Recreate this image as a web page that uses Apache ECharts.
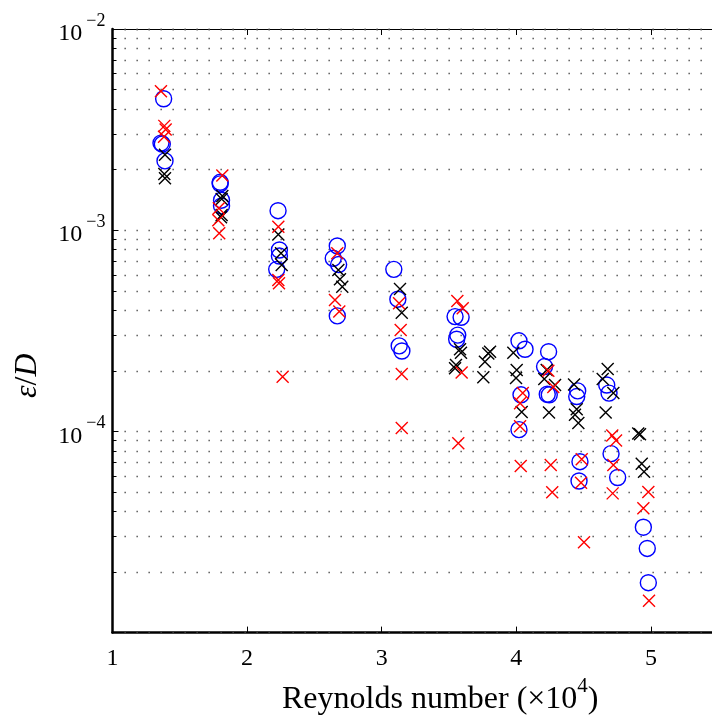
<!DOCTYPE html>
<html><head><meta charset="utf-8">
<script src="https://cdn.jsdelivr.net/npm/echarts@6/dist/echarts.min.js"></script>
<style>html,body{margin:0;padding:0;background:#fff}#c{width:712px;height:722px}</style>
</head><body><div id="c"></div>
<script>
// ---- data ----
const xTickLabels = ['1', '2', '3', '4', '5'];
const yDecades = [1e-5, 1e-4, 1e-3, 1e-2];
const yMinorTicks = [2e-5,3e-5,4e-5,5e-5,6e-5,7e-5,8e-5,9e-5,2e-4,3e-4,4e-4,5e-4,6e-4,7e-4,8e-4,9e-4,2e-3,3e-3,4e-3,5e-3,6e-3,7e-3,8e-3,9e-3];

const blueRe  = [1.38,1.36,1.37,1.39, 1.80,1.80,1.81,1.81, 2.23,2.24,2.24,2.22, 2.67,2.64,2.68,2.67, 3.09,3.12,3.13,3.15, 3.545,3.59,3.565,3.557, 4.02,4.065,4.035,4.02, 4.24,4.21,4.23,4.245, 4.456,4.449,4.473,4.466, 4.672,4.689,4.704,4.753, 4.944,4.973,4.981];
const blueEps = [4.5e-3,2.71e-3,2.68e-3,2.21e-3, 1.73e-3,1.70e-3,1.41e-3,1.32e-3, 1.25e-3,7.97e-4,7.44e-4,6.39e-4, 8.35e-4,7.25e-4,6.75e-4,3.75e-4, 6.39e-4,4.54e-4,2.66e-4,2.51e-4, 3.72e-4,3.69e-4,3.01e-4,2.87e-4, 2.82e-4,2.56e-4,1.52e-4,1.02e-4, 2.49e-4,2.10e-4,1.53e-4,1.52e-4, 1.59e-4,1.49e-4,7.07e-5,5.67e-5, 1.70e-4,1.55e-4,7.75e-5,5.90e-5, 3.34e-5,2.62e-5,1.77e-5];

const blackRe  = [1.39,1.385,1.39, 1.816,1.811,1.811,1.806, 2.232,2.252,2.257, 2.678,2.69,2.707, 3.136,3.149, 3.582,3.589,3.552,3.545, 3.805,3.792,3.767,3.755, 3.978,4.003,3.998,4.04, 4.226,4.208,4.288,4.243, 4.429,4.449,4.436,4.461, 4.679,4.642,4.721,4.664, 4.906,4.919,4.932,4.949];
const blackEps = [2.37e-3,1.90e-3,1.81e-3, 1.48e-3,1.43e-3,1.19e-3,1.16e-3, 9.52e-4,7.68e-4,6.71e-4, 6.34e-4,5.70e-4,5.24e-4, 5.10e-4,3.89e-4, 2.56e-4,2.46e-4,2.14e-4,2.06e-4, 2.49e-4,2.44e-4,2.22e-4,1.86e-4, 2.46e-4,2.02e-4,1.84e-4,1.25e-4, 2.02e-4,1.82e-4,1.70e-4,1.24e-4, 1.71e-4,1.29e-4,1.21e-4,1.10e-4, 2.04e-4,1.82e-4,1.55e-4,1.24e-4, 9.76e-5,9.67e-5,6.91e-5,6.30e-5];

const redRe  = [1.36,1.385,1.395,1.383, 1.816,1.79,1.786,1.793, 2.232,2.232,2.237,2.264, 2.67,2.653,2.685, 3.129,3.141,3.149,3.149, 3.562,3.602,3.594,3.569, 4.048,4.028,4.028,4.033, 4.238,4.275,4.256,4.267, 4.486,4.481,4.503, 4.713,4.741,4.721,4.716, 4.981,4.944,4.986];
const redEps = [4.9e-3,3.30e-3,3.17e-3,2.91e-3, 1.87e-3,1.285e-3,1.12e-3,9.65e-4, 1.04e-3,5.66e-4,5.45e-4,1.87e-4, 7.68e-4,4.50e-4,3.94e-4, 4.33e-4,3.19e-4,1.93e-4,1.04e-4, 4.45e-4,4.09e-4,1.96e-4,8.73e-5, 1.55e-4,1.38e-4,1.06e-4,6.73e-5, 2.00e-4,1.66e-4,6.81e-5,4.98e-5, 7.27e-5,5.56e-5,2.81e-5, 9.54e-5,9.01e-5,6.81e-5,4.92e-5, 5.00e-5,4.15e-5,1.44e-5];

const xMin = 1, xMax = 5.454;
const yMin = 1e-5, yMax = 1e-2;

// ---- chart ----
const zip = (a, b) => a.map((v, i) => [v, b[i]]);
const FONT = 'Liberation Serif';
const CROSS = 'path://M0,0L10,10M10,0L0,10';
const DOTS = {color: '#444', width: 1.3, type: [1.3, 10.7], opacity: 1};

const chart = echarts.init(document.getElementById('c'), null, {renderer: 'canvas'});
chart.setOption({
  animation: false,
  backgroundColor: '#ffffff',
  grid: {left: 112.5, top: 29, right: 0, bottom: 89.4, containLabel: false},
  xAxis: [{
    type: 'value', min: xMin, max: xMax, interval: 1, position: 'bottom',
    name: '{n|Reynolds number (×10}{s|4}{n|)}',
    nameLocation: 'middle', nameGap: 36,
    nameTextStyle: {padding: [0, 0, 0, 56], rich: {
      n: {fontFamily: FONT, fontSize: 32, color: '#000', lineHeight: 40, verticalAlign: 'bottom'},
      s: {fontFamily: FONT, fontSize: 21, color: '#000', lineHeight: 30, verticalAlign: 'top'}
    }},
    axisLine: {show: true, onZero: false, lineStyle: {color: '#000', width: 2.5}},
    axisTick: {show: true, inside: true, length: 6, lineStyle: {color: '#000', width: 1}},
    axisLabel: {show: true, showMaxLabel: false, margin: 14, fontFamily: FONT, fontSize: 24, color: '#000',
      formatter: v => { const i = Math.round(v) - 1; return (Math.abs(v - Math.round(v)) < 1e-9 && xTickLabels[i]) ? xTickLabels[i] : ''; }},
    splitLine: {show: false}
  }, {
    type: 'value', min: xMin, max: xMax, interval: 1, position: 'top',
    axisLine: {show: true, onZero: false, lineStyle: {color: '#000', width: 1}},
    axisTick: {show: true, inside: true, length: 6, lineStyle: {color: '#000', width: 1}},
    axisLabel: {show: false}, splitLine: {show: false}
  }],
  yAxis: [{
    type: 'log', logBase: 10, min: yMin, max: yMax, position: 'left', z: 3,
    name: '{i|ε}{n|/}{i|D}',
    nameLocation: 'middle', nameGap: 69, nameRotate: 90,
    nameTextStyle: {padding: [0, 90, 0, 0], rich: {
      i: {fontFamily: FONT, fontSize: 32, fontStyle: 'italic', color: '#000'},
      n: {fontFamily: FONT, fontSize: 32, color: '#000'}
    }},
    axisLine: {show: true, onZero: false, lineStyle: {color: '#000', width: 2.5}},
    axisTick: {show: true, inside: true, length: 6, lineStyle: {color: '#000', width: 1}},
    axisLabel: {show: true, margin: 7,
      formatter: v => {
        const e = Math.round(Math.log10(v));
        if (!yDecades.some(d => Math.abs(Math.log10(d) - e) < 1e-6) || e === -5) return '';
        return '{b|10}{s|−' + Math.abs(e) + '}';
      },
      rich: {
        b: {fontFamily: FONT, fontSize: 24, color: '#000', lineHeight: 34, verticalAlign: 'bottom'},
        s: {fontFamily: FONT, fontSize: 18, color: '#000', lineHeight: 16, verticalAlign: 'top', padding: [0, 0, 0, 4]}
      }},
    splitLine: {show: true, lineStyle: DOTS}
  }, {
    type: 'log', logBase: 10, min: yMin, max: yMax, position: 'left',
    axisLine: {show: false},
    axisTick: {show: true, inside: true, length: 4, customValues: yMinorTicks, lineStyle: {color: '#000', width: 1}},
    axisLabel: {show: false},
    splitLine: {show: true, lineStyle: DOTS}
  }],
  series: [{
    type: 'scatter', name: 'blue', data: zip(blueRe, blueEps), z: 3,
    symbol: 'circle', symbolSize: 16,
    itemStyle: {color: 'rgba(0,0,0,0)', borderColor: '#0000ff', borderWidth: 1.4, opacity: 1},
    emphasis: {disabled: true}
  }, {
    type: 'scatter', name: 'black', data: zip(blackRe, blackEps), z: 4,
    symbol: CROSS, symbolSize: 12,
    itemStyle: {color: 'rgba(0,0,0,0)', borderColor: '#000000', borderWidth: 1.4, opacity: 1},
    emphasis: {disabled: true}
  }, {
    type: 'scatter', name: 'red', data: zip(redRe, redEps), z: 5,
    symbol: CROSS, symbolSize: 12,
    itemStyle: {color: 'rgba(0,0,0,0)', borderColor: '#ff0000', borderWidth: 1.4, opacity: 1},
    emphasis: {disabled: true}
  }]
});
</script>
</body></html>
